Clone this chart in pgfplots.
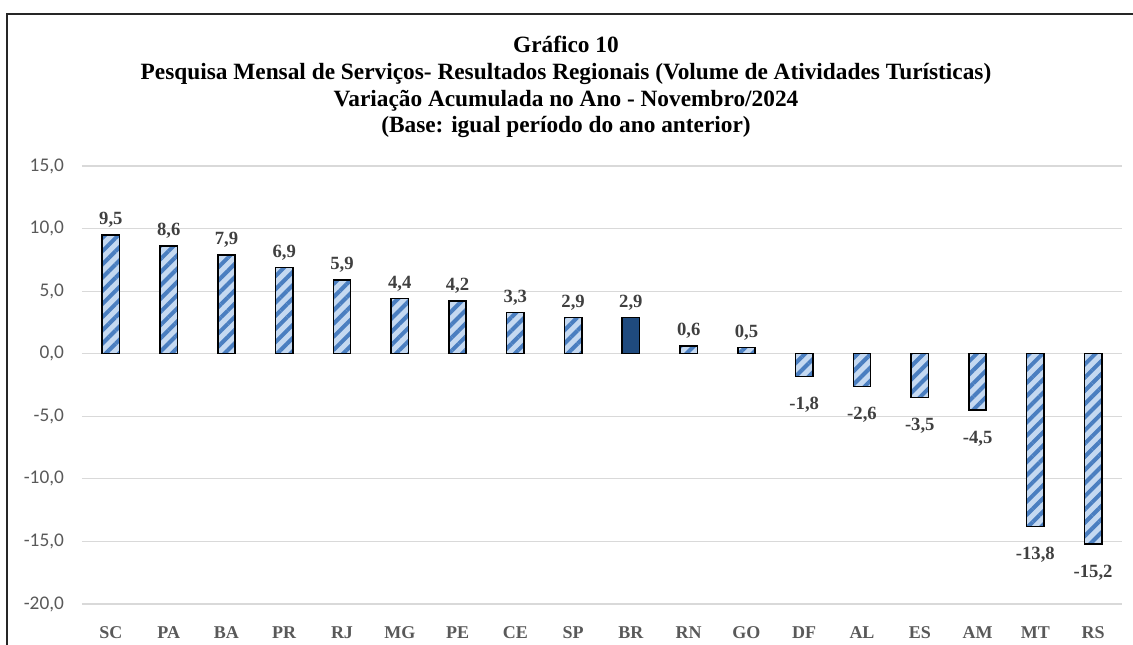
\documentclass[border=0pt]{standalone}
\usepackage{fontspec}
\setmainfont{Liberation Serif}
\newfontfamily\calibri{Carlito}
\usepackage{pgfplots}
\pgfplotsset{compat=1.18}
\usetikzlibrary{patterns.meta}

\definecolor{hatchbg}{HTML}{C5D9F1}
\definecolor{hatchfg}{HTML}{4A7EC0}
\definecolor{brbar}{HTML}{1F4A7E}
\definecolor{gridc}{HTML}{D9D9D9}
\definecolor{lab}{HTML}{404040}
\definecolor{tick}{HTML}{595959}

\pgfplotsset{hatched/.style={bar shift=0pt, draw=black, line width=1.1pt, fill=hatchbg,
  postaction={pattern={Lines[angle=45,distance=7pt,line width=3pt]},pattern color=hatchfg}}}

\begin{document}
\begin{tikzpicture}[x=0.75pt,y=0.75pt]
\useasboundingbox (0,0) rectangle (1133,644);
% frame (only left and top edges fall inside the picture)
\draw[line width=1.5pt,black!85] (7,-10) -- (7,630) -- (1140,630);

% title, one node per line
\begin{scope}[every node/.style={font=\bfseries\fontsize{17.5}{20}\selectfont,anchor=base,inner sep=0pt}]
\node at (566,591) {Gráfico 10};
\node at (566,564) {Pesquisa Mensal de Serviços- Resultados Regionais (Volume de Atividades Turísticas)};
\node at (566,537) {Variação Acumulada no Ano - Novembro/2024};
\node at (566,511) {(Base: igual período do ano anterior)};
\end{scope}

\begin{axis}[
  at={(61.5pt,30pt)}, anchor=south west,
  scale only axis,
  width=780pt, height=328.5pt,
  xmin=-0.5, xmax=17.5,
  ymin=-20, ymax=15,
  ytick={-20,-15,...,15},
  xtick={0,...,17},
  xticklabels={SC,PA,BA,PR,RJ,MG,PE,CE,SP,BR,RN,GO,DF,AL,ES,AM,MT,RS},
  axis line style={draw=none},
  major tick length=0pt,
  ymajorgrids,
  grid style={gridc,line width=0.8pt},
  yticklabel style={font=\calibri\fontsize{14.5}{16}\selectfont,text=tick,xshift=-10pt},
  xticklabel style={font=\bfseries\fontsize{13.5}{15}\selectfont,text=tick,yshift=-13.5pt},
  /pgf/number format/.cd,use comma,fixed,fixed zerofill,precision=1,assume math mode=true,
  /pgfplots/.cd,
  ybar, bar width=13pt,
  nodes near coords={\pgfmathprintnumber[use comma,fixed,fixed zerofill,precision=1,assume math mode=true]{\pgfplotspointmeta}},
  nodes near coords align={vertical},
  every node near coord/.append style={font=\bfseries\fontsize{14}{16}\selectfont,text=lab,inner sep=5pt},
]
% positive states
\addplot[hatched] coordinates {
  (0,9.5) (1,8.6) (2,7.9) (3,6.9) (4,5.9) (5,4.4) (6,4.2) (7,3.3) (8,2.9)
  (10,0.6) (11,0.5)
  };
% Brasil
\addplot[bar shift=0pt, draw=black, line width=1.1pt, fill=brbar]
  coordinates {(9,2.9)};
% negative states, labels set lower
\addplot[hatched, every node near coord/.append style={yshift=-10pt}] coordinates {
  (12,-1.8) (13,-2.6) (14,-3.5) (15,-4.5) (16,-13.8) (17,-15.2)
  };
\end{axis}
\end{tikzpicture}
\end{document}
